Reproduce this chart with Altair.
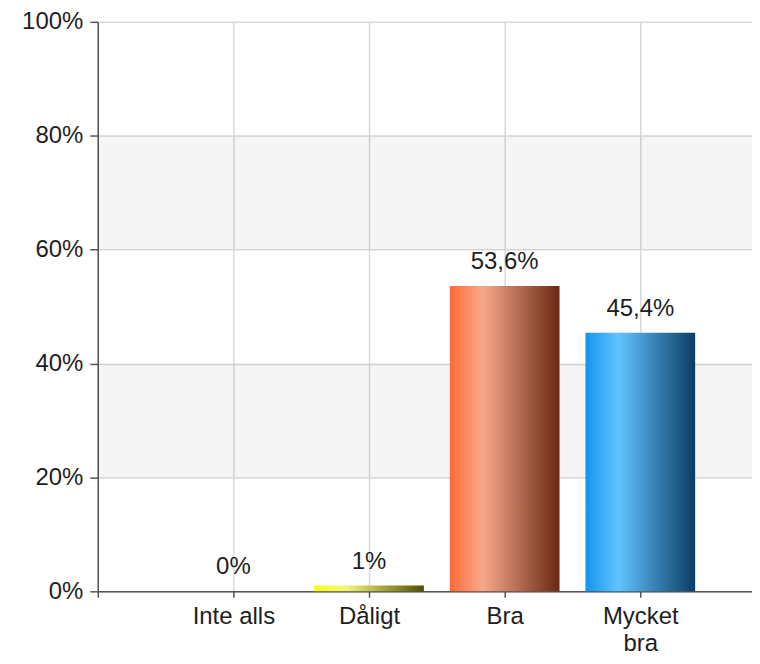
import altair as alt
import pandas as pd

# ---- data ----
categories = ["Inte alls", "Dåligt", "Bra", "Mycket bra"]
tick_label_lines = [["Inte alls"], ["Dåligt"], ["Bra"], ["Mycket", "bra"]]
values = [0, 1, 53.6, 45.4]
value_labels = ["0%", "1%", "53,6%", "45,4%"]
y_ticks = [0, 20, 40, 60, 80, 100]
band_from = [20, 60]
band_to = [40, 80]

# ---- styles ----
gradients = {
    "Inte alls": ["#bbbbbb", "#dddddd", "#555555"],
    "Dåligt": ["#ffff1a", "#f4f47a", "#4f4f00"],
    "Bra": ["#ff6a3a", "#f8a88a", "#6a2814"],
    "Mycket bra": ["#1594ec", "#60c4ff", "#0b3c64"],
}
FONT = "Liberation Sans"
TXT = "#1e1e1e"
AXIS = "#555555"
GRID = "#d9d9d9"
W, H = 656, 571
X_MAX = W / 136

df = pd.DataFrame({
    "cat": categories,
    "idx": list(range(1, len(categories) + 1)),
    "value": values,
    "label": value_labels,
})
bands = pd.DataFrame({"lo": band_from, "hi": band_to})

# label expression for the category axis
parts = []
for i, lines in enumerate(tick_label_lines, start=1):
    if len(lines) == 1:
        txt = "'" + lines[0] + "'"
    else:
        txt = "[" + ",".join("'" + l + "'" for l in lines) + "]"
    parts.append(f"datum.value == {i} ? {txt} : ")
x_label_expr = "".join(parts) + "''"

xscale = alt.Scale(domain=[0, X_MAX], nice=False, zero=False, padding=0)
yscale = alt.Scale(domain=[0, 100], nice=False, padding=0)

x_axis = alt.Axis(
    values=list(range(0, len(categories) + 1)),
    labelExpr=x_label_expr,
    title=None,
    grid=True,
    gridColor=GRID,
    gridWidth=1.5,
    domainColor=AXIS,
    domainWidth=1.5,
    tickColor=AXIS,
    tickWidth=1.5,
    tickSize=6,
    labelFont=FONT,
    labelFontSize=24,
    labelColor=TXT,
    labelPadding=7,
    labelLineHeight=27,
    labelFlush=False,
    labelOverlap=False,
)
y_axis = alt.Axis(
    values=y_ticks,
    labelExpr="datum.value + '%'",
    title=None,
    grid=True,
    gridColor=GRID,
    gridWidth=1.5,
    domainColor=AXIS,
    domainWidth=1.5,
    tickColor=AXIS,
    tickWidth=1.5,
    tickSize=8,
    labelFont=FONT,
    labelFontSize=24,
    labelColor=TXT,
    labelPadding=7,
    labelFlush=False,
    labelOverlap=False,
)

band_layer = alt.Chart(bands).mark_rect(color="#000000", opacity=0.04).encode(
    x=alt.X(datum=0, scale=xscale, axis=x_axis),
    x2=alt.X2(datum=X_MAX),
    y=alt.Y("lo:Q", scale=yscale, axis=y_axis),
    y2="hi:Q",
)

bar_layers = []
for cat in categories:
    c0, c1, c2 = gradients[cat]
    grad = alt.Gradient(
        gradient="linear", x1=0, x2=1, y1=0, y2=0,
        stops=[
            alt.GradientStop(offset=0, color=c0),
            alt.GradientStop(offset=0.3, color=c1),
            alt.GradientStop(offset=1, color=c2),
        ],
    )
    bar_layers.append(
        alt.Chart(df).transform_filter(alt.datum.cat == cat)
        .mark_bar(size=110, orient="vertical", color=grad)
        .encode(
            x=alt.X("idx:Q", scale=xscale, axis=x_axis),
            y=alt.Y("value:Q", scale=yscale, axis=y_axis),
        )
    )

text_layer = alt.Chart(df).mark_text(
    font=FONT, fontSize=24, color=TXT, dy=-17, baseline="alphabetic", align="center"
).encode(
    x=alt.X("idx:Q", scale=xscale, axis=x_axis),
    y=alt.Y("value:Q", scale=yscale, axis=y_axis),
    text="label:N",
)

chart = alt.layer(band_layer, *bar_layers, text_layer).properties(
    width=W,
    height=H,
    autosize=alt.AutoSizeParams(type="none"),
    padding={"left": 90, "top": 13, "right": 0, "bottom": 70},
    background="white",
).configure_view(stroke=None)

chart.save("out.html", embed_options={"renderer": "svg", "actions": False})
